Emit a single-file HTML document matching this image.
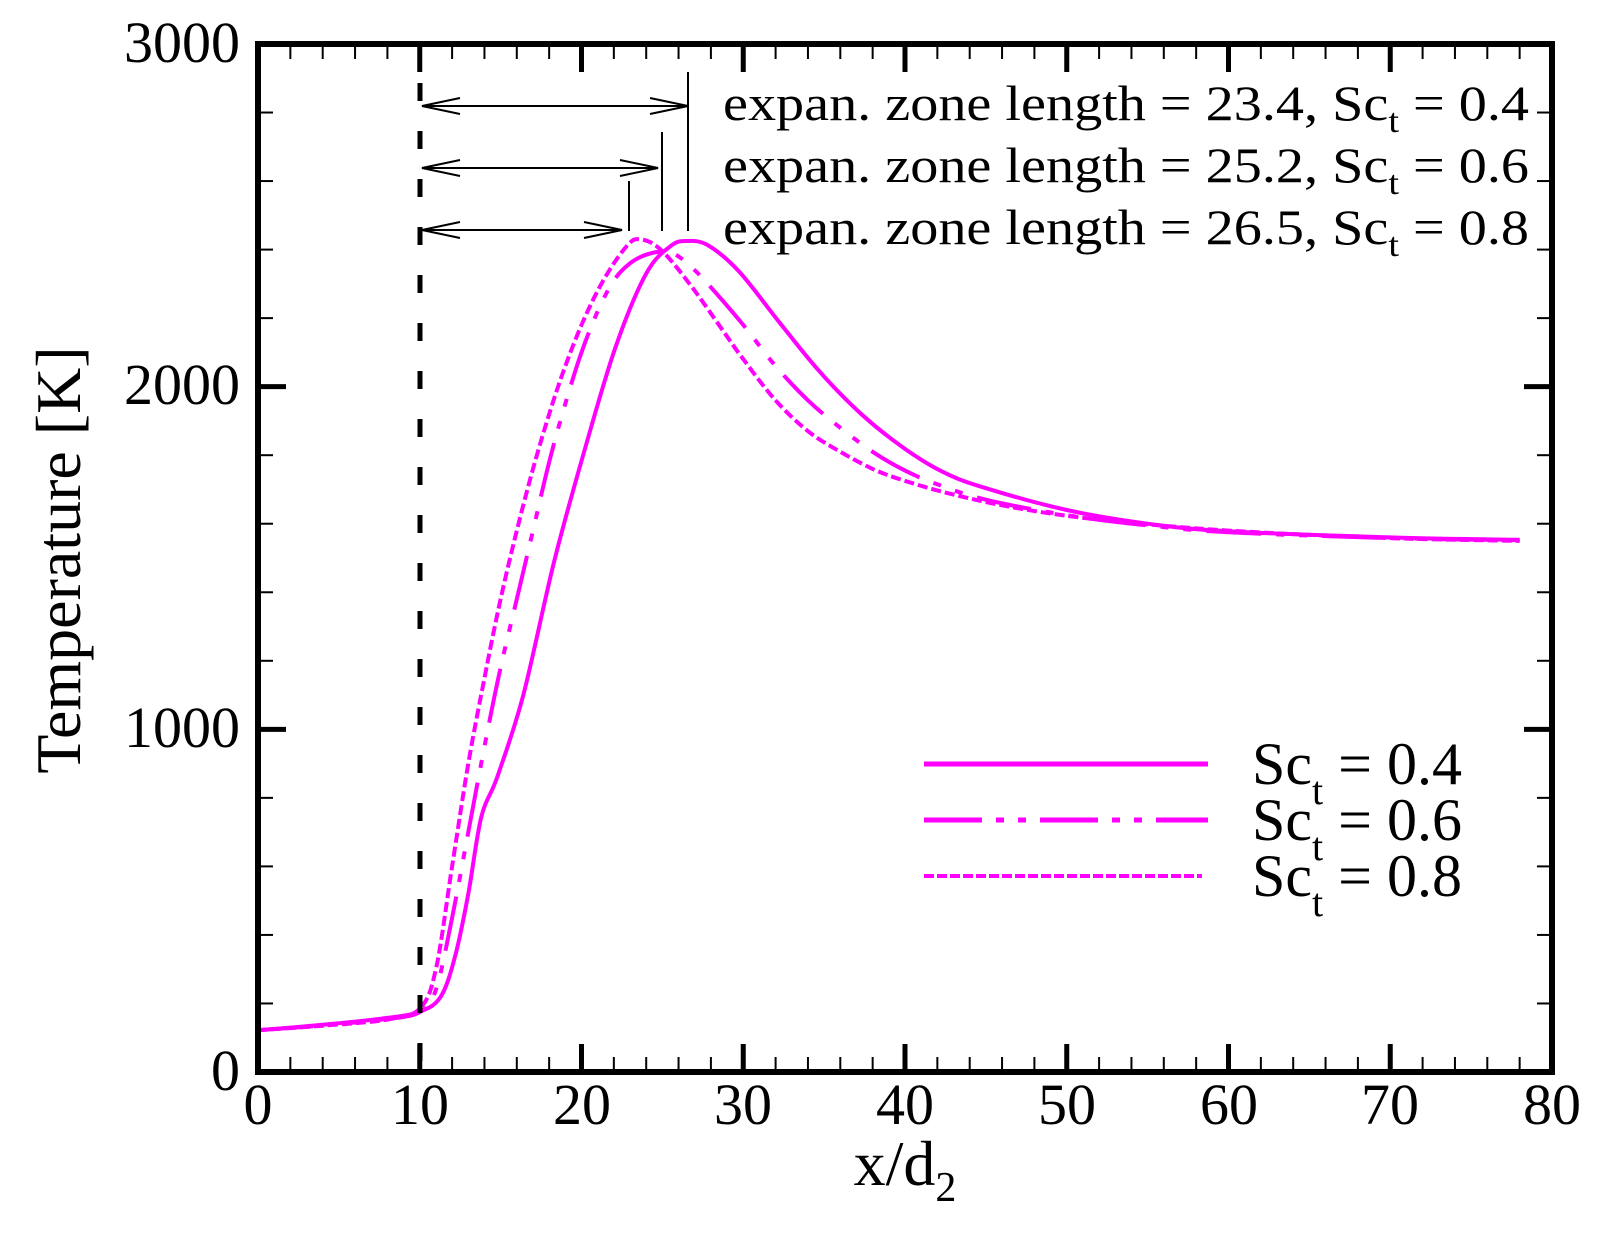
<!DOCTYPE html>
<html><head><meta charset="utf-8"><style>
html,body{margin:0;padding:0;background:#fff;}
svg{display:block;}
text{font-family:"Liberation Serif","Times New Roman",serif;fill:#000;}
</style></head><body>
<svg id="s" width="1604" height="1237" viewBox="0 0 1604 1237" xmlns="http://www.w3.org/2000/svg">
<g id="ticks" stroke="#000"></g>
<g id="curves" fill="none" stroke="#ff00ff" stroke-width="4"></g>
<line x1="420" y1="83" x2="420" y2="1072" stroke="#000" stroke-width="5" stroke-dasharray="18 30"/>
<g stroke="#000" stroke-width="2" fill="none">
<line x1="422" y1="106" x2="688" y2="106"/>
<polyline points="460,98 422,106 460,114"/><polyline points="650,98 688,106 650,114"/>
<line x1="688" y1="72" x2="688" y2="231"/>
<line x1="422" y1="168" x2="658" y2="168"/>
<polyline points="460,160 422,168 460,176"/><polyline points="620,160 658,168 620,176"/>
<line x1="662" y1="132" x2="662" y2="231"/>
<line x1="422" y1="230" x2="622" y2="230"/>
<polyline points="460,222 422,230 460,238"/><polyline points="584,222 622,230 584,238"/>
<line x1="629" y1="181" x2="629" y2="231"/>
</g>
<g font-size="50">
<text x="723" y="120" textLength="806" lengthAdjust="spacingAndGlyphs">expan. zone length = 23.4, Sc<tspan font-size="34" dy="12">t</tspan><tspan dy="-12"> = 0.4</tspan></text>
<text x="723" y="182" textLength="806" lengthAdjust="spacingAndGlyphs">expan. zone length = 25.2, Sc<tspan font-size="34" dy="12">t</tspan><tspan dy="-12"> = 0.6</tspan></text>
<text x="723" y="244" textLength="806" lengthAdjust="spacingAndGlyphs">expan. zone length = 26.5, Sc<tspan font-size="34" dy="12">t</tspan><tspan dy="-12"> = 0.8</tspan></text>
</g>
<g stroke="#ff00ff" stroke-width="5">
<line x1="924" y1="764" x2="1208" y2="764"/>
<line x1="924" y1="820" x2="1208" y2="820" stroke-dasharray="58 14 8 14 8 14"/>
<line x1="924" y1="876" x2="1202" y2="876" stroke-width="4" stroke-dasharray="10 3"/>
</g>
<g font-size="60">
<text x="1252" y="784">Sc<tspan font-size="40" dy="20">t</tspan><tspan dy="-20"> = 0.4</tspan></text>
<text x="1252" y="840">Sc<tspan font-size="40" dy="20">t</tspan><tspan dy="-20"> = 0.6</tspan></text>
<text x="1252" y="896">Sc<tspan font-size="40" dy="20">t</tspan><tspan dy="-20"> = 0.8</tspan></text>
</g>
<g font-size="58" text-anchor="end">
<text x="240" y="1090">0</text>
<text x="240" y="747">1000</text>
<text x="240" y="404">2000</text>
<text x="240" y="62">3000</text>
</g>
<g font-size="58" text-anchor="middle">
<text x="258" y="1124">0</text>
<text x="420" y="1124">10</text>
<text x="582" y="1124">20</text>
<text x="743" y="1124">30</text>
<text x="905" y="1124">40</text>
<text x="1067" y="1124">50</text>
<text x="1229" y="1124">60</text>
<text x="1390" y="1124">70</text>
<text x="1552" y="1124">80</text>
</g>
<text x="905" y="1185" font-size="64" text-anchor="middle">x/d<tspan font-size="42" dy="16">2</tspan></text>
<text transform="translate(80,560) rotate(-90)" font-size="64" text-anchor="middle">Temperature [K]</text>
<rect x="258" y="44" width="1294" height="1028" fill="none" stroke="#000" stroke-width="6"/>
</svg>
<script>
var X=function(x){return 258+x*16.175;},Y=function(t){return 1072-t*0.34267;};
var NS="http://www.w3.org/2000/svg";
var tk=document.getElementById('ticks');
function ln(x1,y1,x2,y2,w){var l=document.createElementNS(NS,'line');l.setAttribute('x1',x1);l.setAttribute('y1',y1);l.setAttribute('x2',x2);l.setAttribute('y2',y2);l.setAttribute('stroke-width',w);tk.appendChild(l);}
for(var i=0;i<=40;i++){var x=X(i*2);var maj=(i%5==0);var L=maj?28:15,w=maj?5:2;ln(x,1072,x,1072-L,w);ln(x,44,x,44+L,w);}
for(var j=0;j<=15;j++){var y=Y(j*200);var maj=(j%5==0);var L=maj?28:15,w=maj?5:2;ln(258,y,258+L,y,w);ln(1552,y,1552-L,y,w);}
var d04=[[0,122],[4,138],[8,158],[10,176],[11.3,220],[12.2,340],[13,520],[13.8,743],[14.8,862],[16.4,1100],[18.3,1488],[20.2,1816],[22.1,2115],[24,2330],[25.5,2410],[26.5,2425],[27.8,2413],[29.7,2338],[32.2,2190],[34.7,2045],[37.3,1920],[39.8,1825],[42.3,1752],[44.9,1705],[50,1640],[55,1600],[60,1578],[70,1560],[78,1553]];
var d06=[[0,122],[4,136],[8,155],[10,175],[11,240],[12,450],[13,700],[14,950],[15,1180],[16,1380],[17,1580],[18,1780],[19,1950],[20,2100],[21,2220],[22,2310],[23,2360],[24,2385],[25.2,2395],[26,2380],[27,2340],[28,2290],[30,2180],[32,2060],[34,1960],[36,1880],[38,1810],[40,1755],[42,1715],[45,1670],[50,1625],[55,1595],[60,1575],[70,1558],[78,1552]];
var d08=[[0,122],[4,135],[8,153],[10,185],[11,300],[12,600],[13,900],[14,1150],[15,1380],[16,1580],[17,1760],[18,1920],[19,2060],[20,2180],[21,2280],[22,2360],[23,2420],[23.6,2430],[24.5,2415],[25.5,2370],[27,2280],[28.5,2180],[30,2080],[32,1960],[34,1870],[36,1810],[38,1760],[40,1725],[43,1685],[47,1645],[52,1612],[60,1580],[70,1558],[78,1550]];
var cv=document.getElementById('curves');
function path(d,da){var P=d.map(function(p){return [X(p[0]),Y(p[1])];});var s='M'+P[0][0].toFixed(1)+','+P[0][1].toFixed(1);
for(var k=0;k<P.length-1;k++){var p0=P[Math.max(k-1,0)],p1=P[k],p2=P[k+1],p3=P[Math.min(k+2,P.length-1)];
var c1=[p1[0]+(p2[0]-p0[0])/6,p1[1]+(p2[1]-p0[1])/6],c2=[p2[0]-(p3[0]-p1[0])/6,p2[1]-(p3[1]-p1[1])/6];
s+='C'+c1[0].toFixed(1)+','+c1[1].toFixed(1)+' '+c2[0].toFixed(1)+','+c2[1].toFixed(1)+' '+p2[0].toFixed(1)+','+p2[1].toFixed(1);}
var p=document.createElementNS(NS,'path');p.setAttribute('d',s);if(da)p.setAttribute('stroke-dasharray',da);cv.appendChild(p);}
path(d04,null);path(d06,'55 15 8 15 8 15');path(d08,'10 4');
</script>
</body></html>
